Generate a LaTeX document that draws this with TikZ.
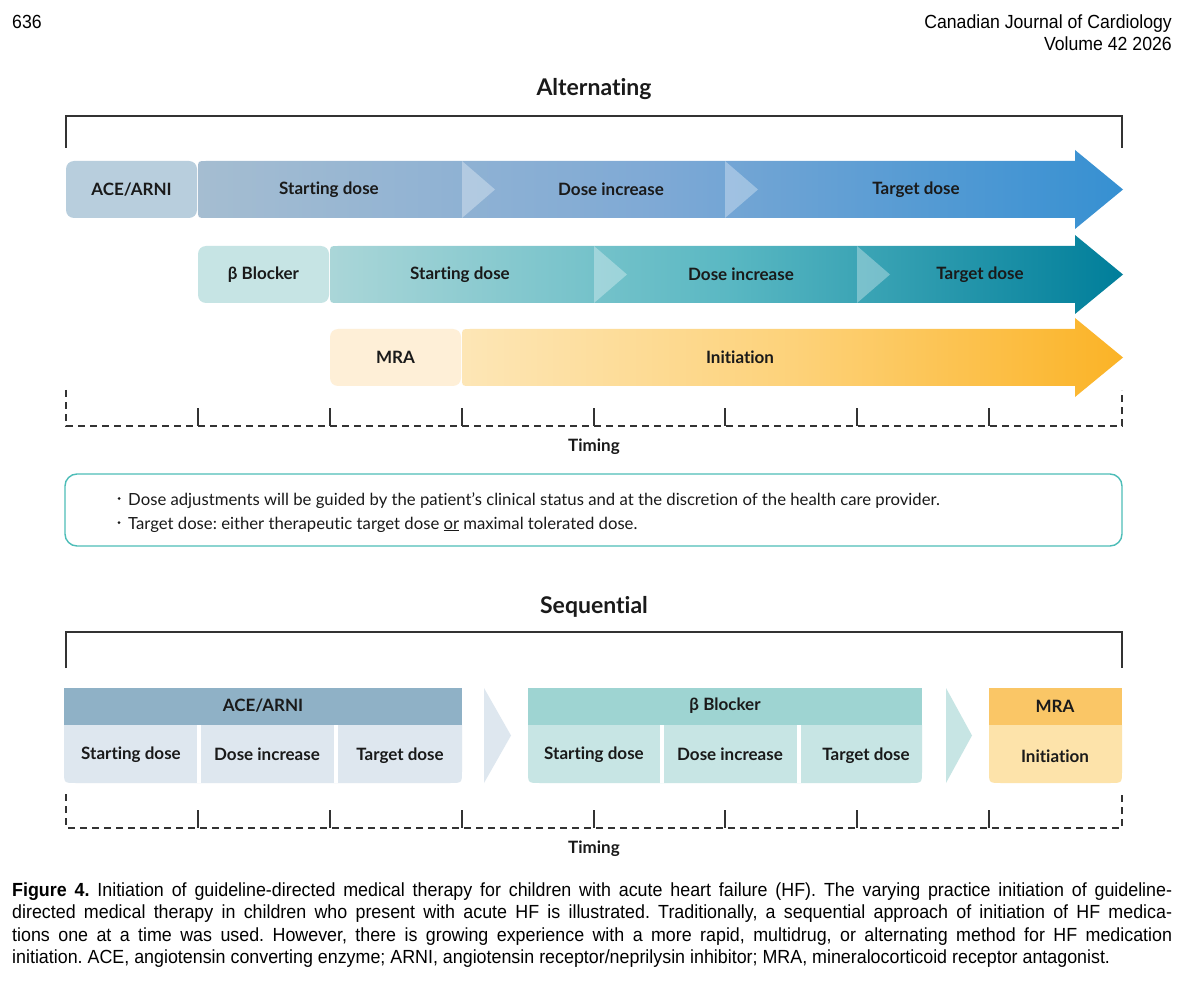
\documentclass[tikz,border=0pt]{standalone}
\usepackage{fontspec}
\setmainfont{Lato}[Ligatures={NoCommon}]
\newfontfamily\hdrfont[FakeStretch=0.93]{Liberation Sans}
\newfontfamily\capfont[FakeStretch=0.94]{Liberation Sans}
\frenchspacing
\definecolor{txt}{HTML}{1A1A1A}
\definecolor{aceBox}{HTML}{B8CEDD}
\definecolor{aceL}{HTML}{A5BDD1}
\definecolor{aceM}{HTML}{7EA9D5}
\definecolor{aceR}{HTML}{3690D2}
\definecolor{betaBox}{HTML}{C6E4E4}
\definecolor{betaL}{HTML}{AAD6D8}
\definecolor{betaM}{HTML}{5AB8C3}
\definecolor{betaR}{HTML}{007E9A}
\definecolor{mraBox}{HTML}{FEEFD7}
\definecolor{mraL}{HTML}{FDE6B6}
\definecolor{mraM}{HTML}{FDD27A}
\definecolor{mraR}{HTML}{FBB326}
\definecolor{noteC}{HTML}{4DBDB8}
\definecolor{seqAh}{HTML}{8FB1C6}
\definecolor{seqAb}{HTML}{DEE7EF}
\definecolor{seqBh}{HTML}{9ED4D2}
\definecolor{seqBb}{HTML}{C7E5E4}
\definecolor{seqMh}{HTML}{FAC666}
\definecolor{seqMb}{HTML}{FDE3AA}
\definecolor{rulec}{HTML}{333333}
\newcommand\lblfont{\fontsize{17}{20}\selectfont\bfseries}
\newcommand\headfont{\fontsize{23}{26}\selectfont\bfseries}
\tikzset{
  lbl/.style={font=\lblfont, text=txt, inner sep=0pt},
  labelbox/.style={lbl, rounded corners=8pt, minimum width=131pt, minimum height=57pt},
  heading/.style={font=\headfont, text=txt, inner sep=0pt},
  bracketline/.style={draw=rulec, line width=1.4pt},
  axisline/.style={draw=rulec, line width=1.3pt, dash pattern=on 7pt off 5pt},
  tickline/.style={draw=rulec, line width=1.3pt},
  chev/.style={fill=white, opacity=0.32},
  sepline/.style={draw=white, line width=3.5pt},
  bodytxt/.style={font=\fontsize{16.7}{20}\selectfont, text=txt, inner sep=0pt},
  capline/.style={font=\capfont\fontsize{19}{22}\selectfont, text=black, inner sep=0pt, anchor=base west},
  hdr/.style={font=\hdrfont\fontsize{19}{22}\selectfont, text=black, inner sep=0pt},
}
\begin{document}
\begin{tikzpicture}[x=1pt,y=-1pt]
\useasboundingbox[fill=white] (0,0) rectangle (1200,984);

% page header
\node[hdr, anchor=base west] (pg) at (12,29) {636};
\node[hdr, anchor=base east] (jn) at (1172,29) {Canadian Journal of Cardiology};
\node[hdr, anchor=base east] (vol) at (1172,51) {Volume 42 2026};

% ===== Alternating =====
\node[heading] (alt) at (594,89) {Alternating};
\draw[bracketline] (66,148) -- (66,116) -- (1122,116) -- (1122,148);

% Row 1: ACE/ARNI
\shade[left color=aceL, right color=aceR, middle color=aceM]
  (206,161) -- (1075,161) -- (1075,150) -- (1123,189.5) -- (1075,229) -- (1075,218)
  -- (206,218) .. controls (198,218) .. (198,210) -- (198,169) .. controls (198,161) .. (206,161) -- cycle;
\fill[chev] (462,161) -- (495,189.5) -- (462,218) -- cycle;
\fill[chev] (725,161) -- (758,189.5) -- (725,218) -- cycle;
\node[labelbox, fill=aceBox] (ace) at (131.5,189.5) {ACE/ARNI};
\node[lbl] (ace1) at (329,189.5) {Starting dose};
\node[lbl] (ace2) at (611,189.5) {Dose increase};
\node[lbl] (ace3) at (916,189.5) {Target dose};

% Row 2: beta blocker
\shade[left color=betaL, right color=betaR, middle color=betaM]
  (338,246) -- (1075,246) -- (1075,235) -- (1123,274.5) -- (1075,314) -- (1075,303)
  -- (338,303) .. controls (330,303) .. (330,295) -- (330,254) .. controls (330,246) .. (338,246) -- cycle;
\fill[chev] (594,246) -- (627,274.5) -- (594,303) -- cycle;
\fill[chev] (857,246) -- (890,274.5) -- (857,303) -- cycle;
\node[labelbox, fill=betaBox] (beta) at (263.5,274.5) {β Blocker};
\node[lbl] (beta1) at (460,274.5) {Starting dose};
\node[lbl] (beta2) at (741,274.5) {Dose increase};
\node[lbl] (beta3) at (980,274.5) {Target dose};

% Row 3: MRA
\shade[left color=mraL, right color=mraR, middle color=mraM]
  (470,329) -- (1075,329) -- (1075,318) -- (1123,357.5) -- (1075,397) -- (1075,386)
  -- (470,386) .. controls (462,386) .. (462,378) -- (462,337) .. controls (462,329) .. (470,329) -- cycle;
\node[labelbox, fill=mraBox] (mra) at (395.5,357.5) {MRA};
\node[lbl] (mra1) at (740,357.5) {Initiation};

% timing axis
\draw[axisline] (66,390) -- (66,426) -- (1122,426) -- (1122,390);
\foreach \x in {198,330,462,594,725,857,989} \draw[tickline] (\x,408) -- (\x,426);
\node[lbl] (tim1) at (594,447) {Timing};

% note box
\node[draw=noteC, line width=1.4pt, rounded corners=12pt, minimum width=1057pt, minimum height=72pt, inner sep=0pt] (note) at (593.5,510) {};
\fill[txt] (119,498.5) circle (1.5);
\fill[txt] (119,522.5) circle (1.5);
\node[bodytxt, anchor=base west] (n1) at (128,505) {Dose adjustments will be guided by the patient’s clinical status and at the discretion of the health care provider.};
\node[bodytxt, anchor=base west] (n2) at (128,529) {Target dose: either therapeutic target dose \underline{or} maximal tolerated dose.};

% ===== Sequential =====
\node[heading] (seq) at (594,607) {Sequential};
\draw[bracketline] (66,668) -- (66,632) -- (1122,632) -- (1122,668);

% ACE/ARNI block
\fill[seqAh] (64,688) rectangle (462,725);
\fill[seqAb] (64,725) -- (462,725) -- (462,771) .. controls (462,783) .. (450,783) -- (76,783) .. controls (64,783) .. (64,771) -- cycle;
\draw[sepline] (199,725) -- (199,783);
\draw[sepline] (336,725) -- (336,783);
\node[lbl] (sA) at (263,706) {ACE/ARNI};
\node[lbl] (sA1) at (131,755) {Starting dose};
\node[lbl] (sA2) at (267,754) {Dose increase};
\node[lbl] (sA3) at (400,756) {Target dose};
\fill[seqAb] (484,688) -- (511,735.5) -- (484,783) -- cycle;

% beta block
\fill[seqBh] (528,688) rectangle (922,725);
\fill[seqBb] (528,725) -- (922,725) -- (922,771) .. controls (922,783) .. (910,783) -- (540,783) .. controls (528,783) .. (528,771) -- cycle;
\draw[sepline] (662,725) -- (662,783);
\draw[sepline] (799,725) -- (799,783);
\node[lbl] (sB) at (725,706) {β Blocker};
\node[lbl] (sB1) at (594,755) {Starting dose};
\node[lbl] (sB2) at (730,754) {Dose increase};
\node[lbl] (sB3) at (866,756) {Target dose};
\fill[seqBb] (946,688) -- (972,735.5) -- (946,783) -- cycle;

% MRA block
\fill[seqMh] (989,688) rectangle (1122,725);
\fill[seqMb] (989,725) -- (1122,725) -- (1122,771) .. controls (1122,783) .. (1110,783) -- (1001,783) .. controls (989,783) .. (989,771) -- cycle;
\node[lbl] (sM) at (1055,706) {MRA};
\node[lbl] (sM1) at (1055,756) {Initiation};

% timing axis
\draw[axisline] (66,794) -- (66,828) -- (1122,828) -- (1122,794);
\foreach \x in {198,330,462,594,725,857,989} \draw[tickline] (\x,810) -- (\x,828);
\node[lbl] (tim2) at (594,849) {Timing};

% caption
\node[capline] (c1) at (12,896) {\makebox[1160pt][s]{\textbf{Figure 4.} Initiation of guideline-directed medical therapy for children with acute heart failure (HF). The varying practice initiation of guideline-}};
\node[capline] (c2) at (12,918.5) {\makebox[1160pt][s]{directed medical therapy in children who present with acute HF is illustrated. Traditionally, a sequential approach of initiation of HF medica-}};
\node[capline] (c3) at (12,941) {\makebox[1160pt][s]{tions one at a time was used. However, there is growing experience with a more rapid, multidrug, or alternating method for HF medication}};
\node[capline] (c4) at (12,963.5) {initiation. ACE, angiotensin converting enzyme; ARNI, angiotensin receptor/neprilysin inhibitor; MRA, mineralocorticoid receptor antagonist.};
\end{tikzpicture}
\end{document}
